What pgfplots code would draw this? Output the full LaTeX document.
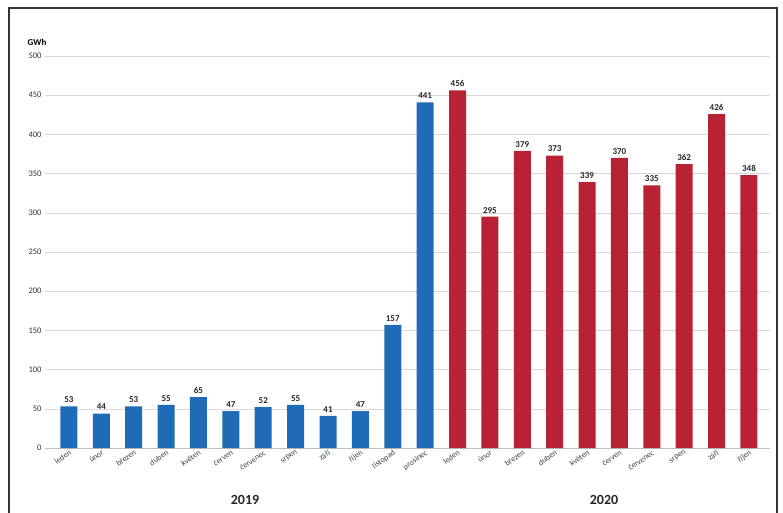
\documentclass[border=0pt]{standalone}
\usepackage{pgfplots}
\pgfplotsset{compat=1.18}
\usepackage{fontspec}
\setmainfont{Carlito}
\definecolor{b19}{HTML}{1F6BB5}
\definecolor{r20}{HTML}{B82234}
\begin{document}
\begin{tikzpicture}[x=1pt,y=1pt]
\useasboundingbox (0,0) rectangle (783,512);
\draw[line width=1.5pt,black!80] (9,-5) rectangle (777,504);
\begin{axis}[at={(45pt,64pt)},anchor=south west,scale only axis,width=725pt,height=392pt,
 xmin=-0.74,xmax=21.65,ymin=0,ymax=500,
 ytick={0,50,...,500},ymajorgrids,grid style={black!15},
 axis line style={draw=none},axis x line*=bottom,
 x axis line style={draw=black!25},
 tick style={draw=none},
 yticklabel style={font=\fontsize{8.5}{10}\selectfont,black!80},
 /pgf/number format/assume math mode=true,
 xtick={0,...,21},
 xticklabels={leden,únor,březen,duben,květen,červen,červenec,srpen,září,říjen,listopad,prosinec,leden,únor,březen,duben,květen,červen,červenec,srpen,září,říjen},
 xticklabel style={font=\fontsize{8}{9}\selectfont,black!75,rotate=35,anchor=north east,inner sep=1pt},
 nodes near coords,nodes near coords style={font=\bfseries\fontsize{9}{10}\selectfont,black!85},
 clip=false]
\addplot[ybar,bar width=17pt,fill=b19,draw=none,bar shift=0pt] coordinates {(0,53)(1,44)(2,53)(3,55)(4,65)(5,47)(6,52)(7,55)(8,41)(9,47)(10,157)(11,441)};
\addplot[ybar,bar width=17pt,fill=r20,draw=none,bar shift=0pt] coordinates {(12,456)(13,295)(14,379)(15,373)(16,339)(17,370)(18,335)(19,362)(20,426)(21,348)};
\end{axis}
\node[font=\bfseries\fontsize{9}{10}\selectfont] at (37,470) {GWh};
\node[font=\bfseries\fontsize{14}{16}\selectfont,black!85] at (245,12) {2019};
\node[font=\bfseries\fontsize{14}{16}\selectfont,black!85] at (604,12) {2020};
\end{tikzpicture}
\end{document}
